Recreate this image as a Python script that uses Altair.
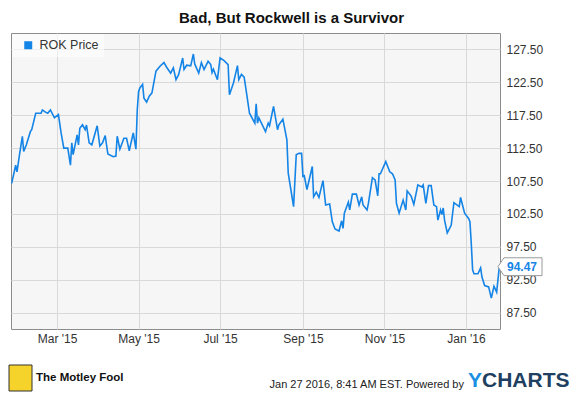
import altair as alt
import pandas as pd

# ---------------- data ----------------
dates = [
    "2015-01-26", "2015-01-29", "2015-01-30", "2015-02-01", "2015-02-03", "2015-02-04",
    "2015-02-06", "2015-02-09", "2015-02-10", "2015-02-13", "2015-02-17", "2015-02-18",
    "2015-02-20", "2015-02-22", "2015-02-24", "2015-02-27", "2015-03-02", "2015-03-04",
    "2015-03-06", "2015-03-09", "2015-03-11", "2015-03-12", "2015-03-13", "2015-03-16",
    "2015-03-17", "2015-03-18", "2015-03-20", "2015-03-22", "2015-03-23", "2015-03-25",
    "2015-03-27", "2015-03-31", "2015-04-02", "2015-04-04", "2015-04-06", "2015-04-08",
    "2015-04-12", "2015-04-14", "2015-04-15", "2015-04-17", "2015-04-20", "2015-04-22",
    "2015-04-24", "2015-04-27", "2015-04-29", "2015-04-30", "2015-05-01", "2015-05-02",
    "2015-05-04", "2015-05-05", "2015-05-07", "2015-05-09", "2015-05-11", "2015-05-14",
    "2015-05-17", "2015-05-20", "2015-05-22", "2015-05-25", "2015-05-27", "2015-05-29",
    "2015-05-31", "2015-06-03", "2015-06-04", "2015-06-06", "2015-06-09", "2015-06-11",
    "2015-06-12", "2015-06-15", "2015-06-17", "2015-06-19", "2015-06-22", "2015-06-24",
    "2015-06-25", "2015-06-26", "2015-06-29", "2015-07-01", "2015-07-04", "2015-07-07",
    "2015-07-08", "2015-07-11", "2015-07-14", "2015-07-15", "2015-07-17", "2015-07-19",
    "2015-07-21", "2015-07-23", "2015-07-27", "2015-07-28", "2015-07-29", "2015-07-30",
    "2015-08-04", "2015-08-06", "2015-08-07", "2015-08-10", "2015-08-13", "2015-08-14",
    "2015-08-17", "2015-08-20", "2015-08-21", "2015-08-25", "2015-08-27", "2015-08-29",
    "2015-08-31", "2015-09-01", "2015-09-02", "2015-09-04", "2015-09-08", "2015-09-09",
    "2015-09-11", "2015-09-13", "2015-09-16", "2015-09-18", "2015-09-21", "2015-09-23",
    "2015-09-25", "2015-09-28", "2015-09-30", "2015-10-01", "2015-10-02", "2015-10-05",
    "2015-10-06", "2015-10-08", "2015-10-11", "2015-10-13", "2015-10-15", "2015-10-16",
    "2015-10-19", "2015-10-20", "2015-10-23", "2015-10-25", "2015-10-27", "2015-10-28",
    "2015-10-29", "2015-11-02", "2015-11-05", "2015-11-07", "2015-11-09", "2015-11-10",
    "2015-11-12", "2015-11-15", "2015-11-17", "2015-11-18", "2015-11-21", "2015-11-23",
    "2015-11-26", "2015-11-29", "2015-11-30", "2015-12-02", "2015-12-04", "2015-12-06",
    "2015-12-08", "2015-12-10", "2015-12-11", "2015-12-13", "2015-12-14", "2015-12-15",
    "2015-12-16", "2015-12-18", "2015-12-19", "2015-12-21", "2015-12-23", "2015-12-27",
    "2015-12-28", "2015-12-31", "2016-01-03", "2016-01-04", "2016-01-05", "2016-01-06",
    "2016-01-07", "2016-01-10", "2016-01-12", "2016-01-13", "2016-01-15", "2016-01-18",
    "2016-01-20", "2016-01-22", "2016-01-24", "2016-01-26",
]
prices = [
    107.15, 109.9, 108.9, 111.7, 114.3, 112.0,
    113.0, 115.0, 115.3, 117.8, 117.8, 118.3,
    118.0, 117.8, 118.3, 117.1, 117.6, 114.8,
    112.5, 112.5, 109.9, 113.3, 111.5, 114.5,
    113.0, 115.5, 116.05, 115.3, 116.0, 113.3,
    113.0, 115.9, 112.8, 113.3, 114.4, 111.6,
    111.2, 111.3, 114.3, 112.35, 114.0, 114.0,
    112.1, 114.8, 112.35, 118.3, 121.1, 121.65,
    122.2, 120.1, 119.5, 120.4, 120.9, 124.2,
    124.95, 125.5, 124.8, 123.9, 124.7, 122.9,
    123.7, 126.2, 124.45, 125.1, 125.0, 126.8,
    125.3, 123.9, 125.5, 124.45, 125.7, 125.2,
    124.0, 124.5, 122.9, 126.2, 125.8, 125.2,
    120.6, 122.4, 125.05, 122.9, 123.7, 123.3,
    120.6, 117.8, 116.3, 119.25, 116.3, 117.1,
    115.0, 116.3, 115.9, 118.85, 115.3, 116.05,
    116.9, 113.75, 108.7, 103.6, 111.5, 111.7,
    111.7, 108.2, 108.3, 106.2, 109.7, 105.1,
    105.8, 105.0, 107.55, 103.85, 104.0, 101.3,
    100.2, 99.9, 101.45, 100.3, 102.6, 104.3,
    103.1, 105.5, 105.5, 103.85, 105.1, 103.85,
    103.1, 104.1, 108.0, 107.65, 105.25, 108.6,
    108.6, 110.45, 108.9, 108.6, 107.65, 104.1,
    102.6, 104.6, 103.1, 106.0, 105.2, 103.95,
    106.9, 106.6, 106.9, 104.1, 106.8, 106.8,
    103.85, 103.6, 101.55, 103.1, 102.4, 103.4,
    101.55, 99.6, 100.0, 100.8, 104.2, 103.6,
    105.0, 102.6, 101.8, 101.3, 98.0, 94.0,
    93.4, 93.4, 94.3, 92.9, 91.6, 91.4,
    89.7, 91.5, 90.6, 94.47,
]
series_name = "ROK Price"
title_text = "Bad, But Rockwell is a Survivor"
y_ticks = [87.5, 92.5, 97.5, 102.5, 107.5, 112.5, 117.5, 122.5, 127.5]
last_label = "94.47"
footer_left = "The Motley Fool"
footer_mid = "Jan 27 2016, 8:41 AM EST.  Powered by"
brand_first = "Y"
brand_rest = "CHARTS"

FONT = "Liberation Sans"
LINE_COLOR = "#1484e6"

df = pd.DataFrame({"date": pd.to_datetime(dates), "price": prices, "series": series_name})
last = df.tail(1).copy()
last["label"] = last_label

x_enc = alt.X(
    "date:T",
    title=None,
    scale=alt.Scale(domain=[alt.DateTime(year=2015, month=1, date=25, hours=12),
                            alt.DateTime(year=2016, month=1, date=26, hours=12)]),
    axis=alt.Axis(
        values=[alt.DateTime(year=2015, month=3, date=1), alt.DateTime(year=2015, month=5, date=1),
                alt.DateTime(year=2015, month=7, date=1), alt.DateTime(year=2015, month=9, date=1),
                alt.DateTime(year=2015, month=11, date=1), alt.DateTime(year=2016, month=1, date=1)],
        format="%b '%y", ticks=False, domain=False, grid=True, labelPadding=4,
        labelOverlap=False, tickCount=20,
    ),
)
y_enc = alt.Y(
    "price:Q",
    title=None,
    scale=alt.Scale(domain=[85, 130], nice=False, zero=False),
    axis=alt.Axis(orient="right", values=y_ticks, format=".2f", ticks=False, domain=False,
                  grid=True, labelPadding=6, labelOverlap=False, labelFlush=False,
                  tickCount=20),
)

line = alt.Chart(df).mark_line(strokeWidth=1.6).encode(
    x=x_enc,
    y=y_enc,
    color=alt.Color(
        "series:N",
        scale=alt.Scale(range=[LINE_COLOR]),
        legend=alt.Legend(
            title=None, orient="top-left", offset=1, fillColor="rgba(255,255,255,0.6)",
            padding=5, symbolType="square", symbolSize=64, symbolFillColor=LINE_COLOR,
            symbolStrokeWidth=0, symbolOffset=5, labelOffset=5, labelFontSize=12.5,
            labelFont=FONT, labelColor="#333333",
        ),
    ),
)

callout_box = alt.Chart(last).mark_point(
    shape="M-1.32,0 L-1,-0.47 L1,-0.47 L1,0.47 L-1,0.47 Z",
    size=1444, filled=True, fill="white", stroke="#9a9a9a", strokeWidth=1, opacity=1,
).encode(x=alt.value(512), y=alt.Y("price:Q"))

callout_text = alt.Chart(last).mark_text(
    font=FONT, fontSize=12, fontWeight="bold", color=LINE_COLOR, align="center", baseline="middle",
).encode(x=alt.value(511), y=alt.Y("price:Q"), text="label:N")

one = pd.DataFrame({"k": [0]})
logo = alt.Chart(one).mark_rect(fill="#f6d32a", stroke="#333333", strokeWidth=1).encode(
    x=alt.value(-2), x2=alt.value(21), y=alt.value(332), y2=alt.value(358)
)
foot_left = alt.Chart(one).mark_text(
    text=footer_left, font=FONT, fontSize=11.5, fontWeight="bold",
    color="#111111", align="left", baseline="alphabetic",
).encode(x=alt.value(25), y=alt.value(348))
foot_mid = alt.Chart(one).mark_text(
    text=footer_mid, font=FONT, fontSize=11, color="#222222",
    align="right", baseline="alphabetic",
).encode(x=alt.value(453), y=alt.value(355))
foot_brand1 = alt.Chart(one).mark_text(
    text=brand_first, font=FONT, fontSize=21, fontWeight="bold", color="#1a8fe3",
    align="left", baseline="alphabetic",
).encode(x=alt.value(457), y=alt.value(354))
foot_brand2 = alt.Chart(one).mark_text(
    text=brand_rest, font=FONT, fontSize=21, fontWeight="bold", color="#213f60",
    align="left", baseline="alphabetic",
).encode(x=alt.value(471), y=alt.value(354))

chart = alt.layer(
    line, callout_box, callout_text, logo, foot_left, foot_mid, foot_brand1, foot_brand2
).properties(
    width=489,
    height=296,
    autosize=alt.AutoSizeParams(type="none"),
    padding={"left": 3, "top": 25, "right": 72, "bottom": 71},
    title=alt.TitleParams(
        text=title_text, font=FONT, fontSize=15, fontWeight="bold", color="#111111",
        anchor="middle", dx=36, offset=7,
    ),
).configure(
    background="white",
).configure_view(
    fill="#f6f6f6", stroke="#8c8c8c", strokeWidth=1,
).configure_axis(
    labelFont=FONT, labelFontSize=12, labelColor="#333333", gridColor="#d9d9d9", gridWidth=1,
)

chart.save("out.html", embed_options={"renderer": "svg", "actions": False})
